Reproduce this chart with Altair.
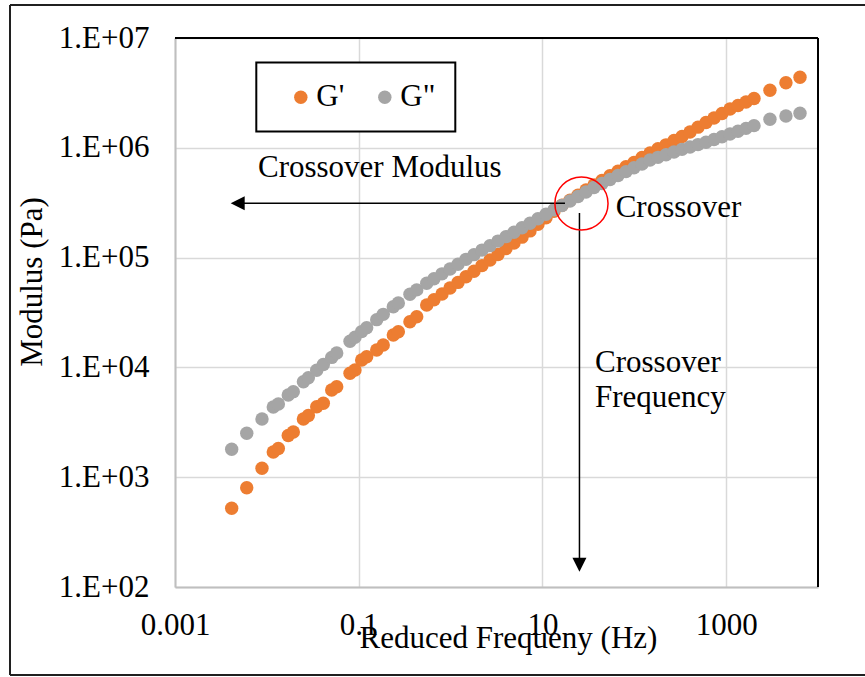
import altair as alt
import pandas as pd

# ---------------- data ----------------
freq_hz = [
    0.00414, 0.00604, 0.00885, 0.01175, 0.01334, 0.0171, 0.0194, 0.0250, 0.0283,
    0.0349, 0.0412, 0.0508, 0.0576, 0.0804, 0.0911, 0.1077, 0.1221, 0.157, 0.185,
    0.238, 0.270, 0.361, 0.428, 0.550,
    0.660, 0.807, 0.986, 1.205, 1.472, 1.799, 2.198, 2.687, 3.283, 4.012, 4.902,
    5.992, 7.323, 8.950, 10.94, 13.37, 16.33, 19.96, 24.39, 29.81, 36.43, 44.52,
    54.41, 66.50, 81.26, 99.31, 121.4, 148.3, 181.3, 221.5, 270.7, 330.8, 404.3,
    494.1, 603.8, 737.9, 901.8, 1102, 1347, 1646, 2011,
    2999, 4477, 6368,
]
g_storage = [  # G'
    521, 802, 1205, 1698, 1824, 2399, 2582, 3388, 3648,
    4385, 4710, 6223, 6668, 8831, 9462, 11670, 12510, 14390, 16000,
    19720, 21130, 26060, 28970, 36980,
    41300, 46670, 52840, 59430, 66830, 75160, 84530, 95060, 106900, 120800, 135800,
    153500, 175000, 201400, 230700, 264200, 299900, 333400, 370700, 413000, 459200, 504700,
    555900, 610900, 671400, 736200, 816600, 897500, 979500, 1064000, 1164000, 1268000, 1393000,
    1542000, 1698000, 1866000, 2051000, 2254000, 2427000, 2612000, 2812000,
    3342000, 3917000, 4385000,
]
g_loss = [  # G"
    1795, 2512, 3388, 4355, 4645, 5610, 6012, 7413, 8054,
    9419, 10620, 12330, 13520, 17300, 18840, 21180, 23010, 27230, 30410,
    35650, 38640, 46340, 50820, 58480,
    64270, 71120, 78700, 87100, 96380, 106400, 117000, 128500, 141300, 155200, 170200,
    187100, 205600, 225900, 248300, 272300, 298500, 327300, 359700, 395400, 434500, 473200,
    514000, 559800, 606700, 657700, 712900, 774500, 818500, 865000, 916200, 968300, 1016000,
    1069000, 1122000, 1189000, 1259000, 1337000, 1416000, 1503000, 1592000,
    1820000, 1950000, 2061000,
]
series_names = ["G'", 'G"']
series_colors = ["#ED7D31", "#A5A5A5"]
x_ticks = [0.001, 0.1, 10, 1000]
y_ticks = [100, 1000, 10000, 100000, 1000000, 10000000]

# annotations (data coordinates)
h_arrow_freq = [0.00485, 17.6]
h_arrow_mod = 312000
h_head_freq = 0.00404
v_arrow_freq = 25.3
v_arrow_mod = [255000, 158]
v_head_mod = 138
circle_freq = 26.6
circle_mod = 311000
text_labels = ["Crossover Modulus", "Crossover", "Crossover", "Frequency"]
text_freq = [0.0080, 62.7, 37.35, 37.35]
text_mod = [542000, 236000, 9030, 4355]

# ---------------- chart ----------------
W, H = 643, 549
FONT = "Liberation Serif"

n = len(freq_hz)
df = pd.DataFrame({
    "freq": freq_hz + freq_hz,
    "mod": g_storage + g_loss,
    "series": [series_names[0]] * n + [series_names[1]] * n,
})

xscale = alt.Scale(type="log", domain=[0.001, 10000], nice=False)
yscale = alt.Scale(type="log", domain=[100, 10000000], nice=False)

xaxis = alt.Axis(
    title="Reduced Frequeny (Hz)", values=x_ticks, format="~g",
    grid=True, gridColor="#d9d9d9", gridWidth=1.5,
    ticks=False, tickSize=0, labelPadding=23, labelFlush=False, labelOverlap=False,
    labelFont=FONT, labelFontSize=31, labelColor="black",
    domainColor="#bfbfbf", domainWidth=2,
    titleFont=FONT, titleFontSize=31, titleFontWeight="normal", titleColor="black",
    titleX=333, titleY=60, titleAlign="center", titleBaseline="alphabetic",
)
yaxis = alt.Axis(
    title="Modulus (Pa)", values=y_ticks,
    labelExpr="'1.E+0' + round(log(datum.value) / LN10)",
    grid=True, gridColor="#d9d9d9", gridWidth=1.5,
    ticks=False, tickSize=0, labelPadding=26, labelFlush=False, labelOverlap=False,
    labelFont=FONT, labelFontSize=31, labelColor="black",
    domainColor="#bfbfbf", domainWidth=2,
    titleFont=FONT, titleFontSize=31, titleFontWeight="normal", titleColor="black",
    titleX=-133.3, titleY=243.5, titleAngle=270, titleAlign="center",
    titleBaseline="alphabetic",
)


def X(field):
    return alt.X(f"{field}:Q", scale=xscale, axis=xaxis)


def Y(field):
    return alt.Y(f"{field}:Q", scale=yscale, axis=yaxis)


points = alt.Chart(df).mark_circle(size=180, opacity=1).encode(
    x=X("freq"),
    y=Y("mod"),
    color=alt.Color(
        "series:N",
        scale=alt.Scale(domain=series_names, range=series_colors),
        legend=alt.Legend(
            title=None, orient="none", legendX=81.3, legendY=24.5,
            direction="horizontal", strokeColor="black", fillColor="white",
            padding=19, symbolType="circle", symbolSize=180, symbolOffset=10,
            labelOffset=0, labelFont=FONT, labelFontSize=31, labelColor="black",
            columnPadding=15, symbolStrokeWidth=0, symbolOpacity=1,
        ),
    ),
)

hdf = pd.DataFrame({"f1": [h_arrow_freq[0]], "f2": [h_arrow_freq[1]], "m": [h_arrow_mod]})
hrule = alt.Chart(hdf).mark_rule(color="black", strokeWidth=1.5).encode(
    x=X("f1"), x2="f2", y=Y("m"))

vdf = pd.DataFrame({"f": [v_arrow_freq], "m1": [v_arrow_mod[0]], "m2": [v_arrow_mod[1]]})
vrule = alt.Chart(vdf).mark_rule(color="black", strokeWidth=1.5).encode(
    x=X("f"), y=Y("m1"), y2="m2")

hhead = alt.Chart(pd.DataFrame({"f": [h_head_freq], "m": [h_arrow_mod]})).mark_point(
    shape="M0,0 L2,-1 L2,1 Z", filled=True, size=196, color="black", opacity=1,
    strokeWidth=0).encode(x=X("f"), y=Y("m"))

vhead = alt.Chart(pd.DataFrame({"f": [v_arrow_freq], "m": [v_head_mod]})).mark_point(
    shape="M0,0 L-1,-2 L1,-2 Z", filled=True, size=196, color="black", opacity=1,
    strokeWidth=0).encode(x=X("f"), y=Y("m"))

circ = alt.Chart(pd.DataFrame({"f": [circle_freq], "m": [circle_mod]})).mark_point(
    shape="circle", filled=False, size=2827, color="#FF0000", strokeWidth=1.5,
    opacity=1).encode(x=X("f"), y=Y("m"))

tdf = pd.DataFrame({"f": text_freq, "m": text_mod, "label": text_labels})
texts = alt.Chart(tdf).mark_text(
    align="left", baseline="alphabetic", font=FONT, fontSize=31, color="black"
).encode(x=X("f"), y=Y("m"), text="label:N")

base = alt.Chart(pd.DataFrame({"a": [0]}))
top_border = base.mark_rule(color="black", strokeWidth=2).encode(
    x=alt.value(0), x2=alt.value(W), y=alt.value(0))
right_border = base.mark_rule(color="black", strokeWidth=2).encode(
    x=alt.value(W), y=alt.value(0), y2=alt.value(H))
frame_top = base.mark_rule(color="#202020", strokeWidth=2).encode(
    x=alt.value(-165), x2=alt.value(690), y=alt.value(-33))
frame_left = base.mark_rule(color="#202020", strokeWidth=2).encode(
    x=alt.value(-165), y=alt.value(-33), y2=alt.value(637))
frame_bottom = base.mark_rule(color="#202020", strokeWidth=2).encode(
    x=alt.value(-165), x2=alt.value(690), y=alt.value(637))

chart = alt.layer(
    points, hrule, vrule, hhead, vhead, circ, texts,
    top_border, right_border, frame_top, frame_left, frame_bottom,
).properties(
    width=W, height=H,
    autosize=alt.AutoSizeParams(type="none"),
    padding={"left": 175, "top": 38, "right": 47, "bottom": 90},
    background="white",
).configure_view(stroke=None).configure_legend(strokeWidth=2)

chart.save("out.html", embed_options={"renderer": "svg", "actions": False})
